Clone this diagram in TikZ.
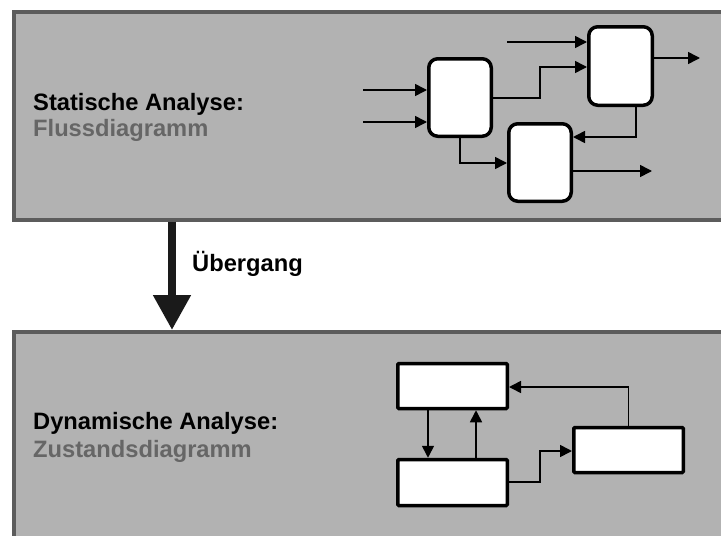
\documentclass[tikz,border=0pt]{standalone}
\usepackage{fontspec}
\setmainfont{Liberation Sans}
\usetikzlibrary{arrows.meta}
\definecolor{panelfill}{HTML}{B2B2B2}
\definecolor{panelborder}{HTML}{5C5C5C}
\definecolor{subgray}{HTML}{666666}
\definecolor{arrowdark}{HTML}{1A1A1A}
\tikzset{
  panel/.style={draw=panelborder, fill=panelfill, line width=4pt, rectangle, inner sep=0pt, anchor=north west},
  flowbox/.style={draw=black, fill=white, line width=3.5pt, rounded corners=9pt, inner sep=0pt, minimum width=62.5pt, minimum height=77.5pt},
  statebox/.style={draw=black, fill=white, line width=3.5pt, rounded corners=1pt, inner sep=0pt, minimum width=109.5pt, minimum height=45pt},
  conn/.style={line width=1.6pt, -{Triangle[length=12pt,width=12pt]}},
  bigarrow/.style={draw=arrowdark, line width=8pt, -{Triangle[length=35pt,width=36pt]}},
  title/.style={font=\bfseries\fontsize{23.7}{28}\selectfont, anchor=base west, inner sep=0pt, text=black},
  subtitle/.style={font=\bfseries\fontsize{23.7}{28}\selectfont, anchor=base west, inner sep=0pt, text=subgray}
}
\begin{document}
\begin{tikzpicture}[x=1pt,y=-1pt]
\useasboundingbox (0,0) rectangle (721,536);
\clip (0,0) rectangle (721,536);
% panels
\node[panel, minimum width=712pt, minimum height=207.5pt] (top) at (12,10) {};
\node[panel, minimum width=712pt, minimum height=220pt] (bot) at (12,330) {};
% texts
\node[title] (t1) at (33,110) {Statische Analyse:};
\node[subtitle] (t2) at (33,136.5) {Flussdiagramm};
\node[title] (t3) at (33,429) {Dynamische Analyse:};
\node[subtitle] (t4) at (33,457) {Zustandsdiagramm};
\node[title] (t5) at (192,271) {Übergang};
% transition arrow
\coordinate (ax) at (172,0);
\draw[bigarrow] (top.south -| ax) -- (bot.north -| ax);
% flow diagram
\node[flowbox] (A) at (460,97.5) {};
\node[flowbox, minimum width=63.5pt, minimum height=78.5pt] (B) at (620.5,66) {};
\node[flowbox] (C) at (540,162.5) {};
\coordinate (i1) at (363,90);
\coordinate (i2) at (363,122);
\coordinate (i3) at (507,42);
\coordinate (ab1) at (540,98);
\coordinate (ab2) at (540,67);
\coordinate (bo) at (700,58);
\coordinate (bc1) at (636,0);
\coordinate (bc2) at (636,137);
\coordinate (ac) at (460,163);
\coordinate (co) at (652,171);
\draw[conn] (i1) -- (A.west |- i1);
\draw[conn] (i2) -- (A.west |- i2);
\draw[conn] (i3) -- (B.west |- i3);
\draw[conn] (A.east |- ab1) -- (ab1) -- (ab2) -- (B.west |- ab2);
\draw[conn] (B.east |- bo) -- (bo);
\draw[conn] (B.south -| bc1) -- (bc2) -- (C.east |- bc2);
\draw[conn] (A.south) -- (ac) -- (C.west |- ac);
\draw[conn] (C.east |- co) -- (co);
% state diagram
\node[statebox] (D) at (452.5,386) {};
\node[statebox, minimum height=46pt] (E) at (452.5,482.5) {};
\node[statebox] (F) at (628.5,450) {};
\coordinate (de) at (428,0);
\coordinate (ed) at (476,0);
\coordinate (ef1) at (540,482);
\coordinate (ef2) at (540,451);
\coordinate (fd) at (628,387);
\draw[conn] (D.south -| de) -- (E.north -| de);
\draw[conn] (E.north -| ed) -- (D.south -| ed);
\draw[conn] (E.east |- ef1) -- (ef1) -- (ef2) -- (F.west |- ef2);
\draw[conn] (F.north) -- (F.north |- fd) -- (D.east |- fd);
\end{tikzpicture}
\end{document}
